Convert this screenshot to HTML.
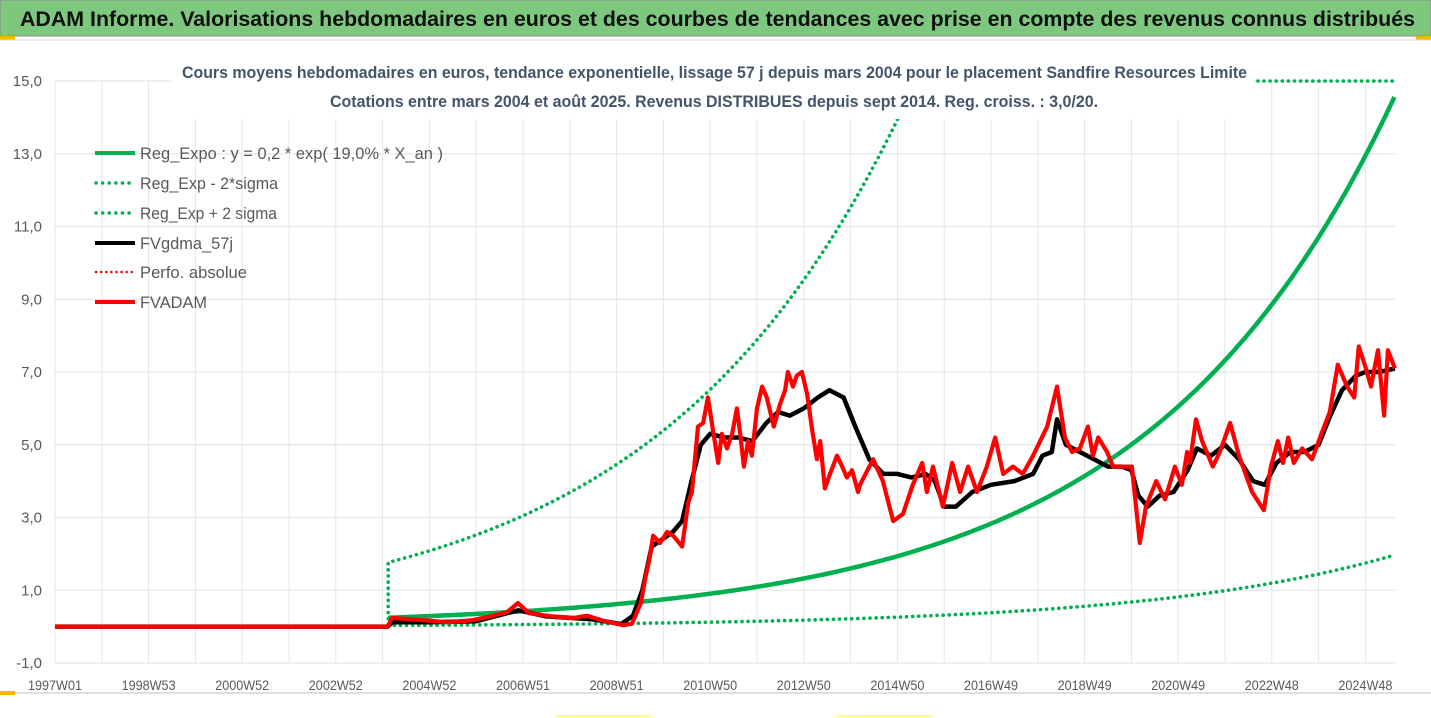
<!DOCTYPE html>
<html><head><meta charset="utf-8"><style>
html,body{margin:0;padding:0;background:#fff;}
svg{display:block;font-family:"Liberation Sans",sans-serif;}
</style></head><body>
<svg id="chart" width="1431" height="718" viewBox="0 0 1431 718" xmlns="http://www.w3.org/2000/svg">
<rect x="0" y="0" width="1431" height="718" fill="#fff"/>
<rect x="0" y="0" width="1431" height="36" fill="#7dc87e" stroke="#8a8a8a" stroke-width="1"/>
<text x="20" y="26" font-size="21" font-weight="bold" fill="#111" textLength="1395" lengthAdjust="spacingAndGlyphs">ADAM Informe. Valorisations hebdomadaires en euros et des courbes de tendances avec prise en compte des revenus connus distribués</text>
<rect x="0" y="36" width="15" height="4" fill="#f5b800"/>
<rect x="1416" y="36" width="15" height="4" fill="#f5b800"/>
<line x1="0" y1="40" x2="1431" y2="40" stroke="#d9d9d9"/>
<g id="grid"></g>
<g id="yticks"></g>
<g id="xticks"></g>
<g id="series"></g>
<rect x="172" y="55" width="1082" height="64" fill="#fff"/>
<text x="182" y="78" font-size="17" font-weight="bold" fill="#44546a" textLength="1065" lengthAdjust="spacingAndGlyphs">Cours moyens hebdomadaires en euros, tendance exponentielle, lissage 57 j depuis mars 2004 pour le placement Sandfire Resources Limite</text>
<text x="330" y="107" font-size="17" font-weight="bold" fill="#44546a" textLength="768" lengthAdjust="spacingAndGlyphs">Cotations entre mars 2004 et août 2025. Revenus DISTRIBUES depuis sept 2014. Reg. croiss. : 3,0/20.</text>
<g font-size="17" fill="#595959">
  <g><line x1="95" y1="153" x2="135" y2="153" stroke="#00b050" stroke-width="4"/><text x="140" y="159" textLength="303" lengthAdjust="spacingAndGlyphs">Reg_Expo : y = 0,2 * exp( 19,0% *  X_an )</text></g>
  <g><line x1="96" y1="183" x2="135" y2="183" stroke="#00b050" stroke-width="3.5" stroke-dasharray="0.1 6.5" stroke-linecap="round"/><text x="140" y="189" textLength="138" lengthAdjust="spacingAndGlyphs">Reg_Exp - 2*sigma</text></g>
  <g><line x1="96" y1="213" x2="135" y2="213" stroke="#00b050" stroke-width="3.5" stroke-dasharray="0.1 6.5" stroke-linecap="round"/><text x="140" y="219" textLength="137" lengthAdjust="spacingAndGlyphs">Reg_Exp + 2 sigma</text></g>
  <g><line x1="95" y1="243" x2="135" y2="243" stroke="#000" stroke-width="4"/><text x="140" y="249" textLength="93" lengthAdjust="spacingAndGlyphs">FVgdma_57j</text></g>
  <g><line x1="96" y1="272" x2="135" y2="272" stroke="#ff0000" stroke-width="2.5" stroke-dasharray="0.1 5" stroke-linecap="round"/><text x="140" y="278" textLength="107" lengthAdjust="spacingAndGlyphs">Perfo. absolue</text></g>
  <g><line x1="95" y1="302" x2="135" y2="302" stroke="#ff0000" stroke-width="4"/><text x="140" y="308" textLength="67" lengthAdjust="spacingAndGlyphs">FVADAM</text></g>
</g>
<line x1="0" y1="693" x2="1431" y2="693" stroke="#bfbfbf"/>
<rect x="0" y="694" width="1431" height="24" fill="#fff"/>
<rect x="0" y="691" width="15" height="4" fill="#f5b800"/>
<line x1="555" y1="716" x2="650" y2="716" stroke="#ffff80" stroke-width="2"/>
<line x1="838" y1="716" x2="933" y2="716" stroke="#ffff80" stroke-width="2"/>
</svg>
<script>
const yTicks = [-1, 1, 3, 5, 7, 9, 11, 13, 15];
const xLabels = ["1997W01","1998W53","2000W52","2002W52","2004W52","2006W51","2008W51","2010W50","2012W50","2014W50","2016W49","2018W49","2020W49","2022W48","2024W48"];
const trendStart = 2004.12;
const trendA = 0.245;
const trendRate = 0.19;
const upperFactor = 7.2;
const lowerFactor = 0.135;
const redYears = [1997.0,2004.11,2004.20,2004.93,2005.40,2005.89,2006.36,2006.66,2006.89,2007.13,2007.62,2008.09,2008.37,2008.75,2009.14,2009.33,2009.52,2009.61,2009.71,2009.78,2009.93,2010.08,2010.21,2010.40,2010.53,2010.61,2010.74,2010.85,2010.95,2011.06,2011.17,2011.25,2011.36,2011.47,2011.57,2011.64,2011.72,2011.81,2011.89,2012.00,2012.11,2012.21,2012.36,2012.49,2012.60,2012.66,2012.77,2012.85,2012.96,2013.07,2013.18,2013.28,2013.35,2013.45,2013.56,2013.71,2013.82,2013.92,2014.03,2014.16,2014.20,2014.48,2014.69,2014.91,2015.12,2015.33,2015.53,2015.63,2015.76,2015.97,2016.17,2016.34,2016.51,2016.70,2016.91,2017.09,2017.26,2017.47,2017.68,2017.90,2018.20,2018.41,2018.58,2018.73,2018.90,2019.07,2019.18,2019.29,2019.48,2019.61,2019.82,2020.01,2020.18,2020.31,2020.53,2020.72,2020.93,2021.08,2021.19,2021.25,2021.38,2021.51,2021.74,2021.89,2022.11,2022.30,2022.58,2022.83,2022.98,2023.13,2023.24,2023.35,2023.47,2023.65,2023.86,2024.09,2024.24,2024.41,2024.61,2024.76,2024.86,2025.01,2025.12,2025.27,2025.40,2025.48,2025.63];
const redValues = [0,0,0.24,0.17,0.12,0.17,0.30,0.40,0.65,0.37,0.28,0.24,0.30,0.15,0.04,0.08,0.65,1.3,1.9,2.5,2.3,2.6,2.5,2.2,3.4,3.7,5.5,5.6,6.3,5.4,4.5,5.3,4.9,5.3,6.0,5.3,4.4,5.1,4.7,6.0,6.6,6.3,5.5,6.1,6.5,7.0,6.6,6.9,7.0,6.4,5.4,4.6,5.1,3.8,4.2,4.7,4.4,4.1,4.3,3.7,3.9,4.6,4.0,2.9,3.1,3.9,4.5,3.7,4.4,3.3,4.5,3.7,4.4,3.7,4.4,5.2,4.2,4.4,4.2,4.7,5.5,6.6,5.2,4.8,4.9,5.5,4.7,5.2,4.8,4.4,4.4,4.4,2.3,3.3,4.0,3.5,4.4,3.9,4.8,4.5,5.7,5.1,4.4,4.8,5.6,4.7,3.7,3.2,4.4,5.1,4.5,5.2,4.5,4.9,4.6,5.4,5.9,7.2,6.6,6.3,7.7,7.1,6.6,7.6,5.8,7.6,7.1];
const blackYears = [1997.0,2004.11,2004.20,2005.0,2006.0,2006.9,2007.5,2008.5,2009.1,2009.35,2009.55,2009.75,2010.2,2010.4,2010.6,2010.8,2011.0,2011.3,2011.6,2011.9,2012.2,2012.45,2012.7,2013.0,2013.3,2013.55,2013.85,2014.1,2014.4,2014.7,2015.0,2015.3,2015.6,2015.8,2016.0,2016.25,2016.6,2017.0,2017.5,2017.9,2018.1,2018.3,2018.41,2018.6,2018.9,2019.2,2019.5,2019.8,2020.0,2020.15,2020.35,2020.6,2020.9,2021.2,2021.4,2021.7,2022.0,2022.3,2022.6,2022.85,2023.1,2023.4,2023.7,2024.0,2024.25,2024.5,2024.8,2025.0,2025.3,2025.63];
const blackValues = [0,0,0.12,0.12,0.15,0.45,0.28,0.2,0.07,0.3,1.0,2.2,2.6,2.9,4.0,5.0,5.3,5.2,5.2,5.1,5.6,5.9,5.8,6.0,6.3,6.5,6.3,5.5,4.6,4.2,4.2,4.1,4.2,4.0,3.3,3.3,3.7,3.9,4.0,4.2,4.7,4.8,5.7,5.0,4.8,4.6,4.4,4.4,4.3,3.6,3.3,3.6,3.7,4.3,4.9,4.7,5.0,4.6,4.0,3.9,4.5,4.8,4.8,5.0,5.8,6.5,6.9,7.0,7.0,7.1];
const trendEnd = 2025.63;

const NS = "http://www.w3.org/2000/svg";
const X0 = 55, PXY = 46.8, Y0 = 663, PXU = 36.375;
function xs(year){ return X0 + (year - 1997) * PXY; }
function ys(v){ return Y0 - (v + 1) * PXU; }
function mk(tag, attrs, parent){ const e = document.createElementNS(NS, tag); for (const k in attrs) e.setAttribute(k, attrs[k]); parent.appendChild(e); return e; }

const grid = document.getElementById("grid");
for (let i = 0; i <= 28; i++) {
  const gx = X0 + i * PXY;
  const l = mk("line", {x1: gx, y1: ys(15), x2: gx, y2: ys(-1), stroke: "#e3e7ec", "stroke-width": 1}, grid);
  
  
}
const yt = document.getElementById("yticks");
yTicks.forEach(v => {
  const l = mk("line", {x1: X0, y1: ys(v), x2: 1395, y2: ys(v), stroke: "#e3e7ec", "stroke-width": 1.3}, grid);
  
  
  const t = mk("text", {x: 42, y: ys(v) + 5, "font-size": 15, fill: "#595959", "text-anchor": "end"}, yt);
  t.textContent = v.toFixed(1).replace(".", ",");
  
  
});
const xt = document.getElementById("xticks");
xLabels.forEach((lab, i) => {
  const t = mk("text", {x: xs(1997 + i * 2), y: 690, "font-size": 14, fill: "#595959", "text-anchor": "middle", textLength: 54, lengthAdjust: "spacingAndGlyphs"}, xt);
  t.textContent = lab;
  
  
});

const S = document.getElementById("series");
function pathFrom(years, vals){ return years.map((y, i) => (i ? "L" : "M") + xs(y).toFixed(1) + " " + ys(vals[i]).toFixed(1)).join(" "); }
function trend(t){ return trendA * Math.exp(trendRate * (t - trendStart)); }
const tYears = [];
for (let t = trendStart; t <= trendEnd + 1e-6; t += 0.05) tYears.push(t);
const upper = tYears.map(t => Math.min(15, trend(t) * upperFactor));
const lower = tYears.map(t => trend(t) * lowerFactor);
const mid = tYears.map(t => trend(t));

let p = mk("path", {d: "M" + xs(trendStart) + " " + ys(0.05) + " " + pathFrom(tYears, upper).replace("M", "L"), fill: "none", stroke: "#00b050", "stroke-width": 3.6, "stroke-dasharray": "0.1 6", "stroke-linecap": "round"}, S);


p = mk("path", {d: pathFrom(tYears, lower), fill: "none", stroke: "#00b050", "stroke-width": 3.6, "stroke-dasharray": "0.1 6", "stroke-linecap": "round"}, S);


p = mk("path", {d: pathFrom(tYears, mid), fill: "none", stroke: "#00b050", "stroke-width": 4.5}, S);


p = mk("path", {d: pathFrom(blackYears, blackValues), fill: "none", stroke: "#000", "stroke-width": 4.5, "stroke-linejoin": "round"}, S);


p = mk("path", {d: pathFrom(redYears, redValues), fill: "none", stroke: "#ff0000", "stroke-width": 4.2, "stroke-linejoin": "round"}, S);


</script>
</body></html>
